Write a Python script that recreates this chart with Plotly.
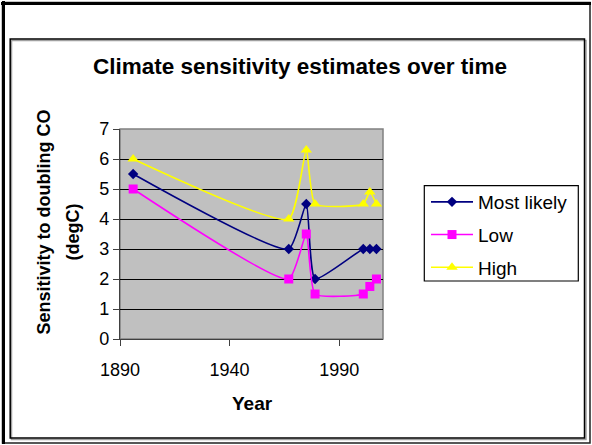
import plotly.graph_objects as go

years = [1896, 1967, 1975, 1979, 2001, 2004, 2007]
most_likely = [5.5, 3.0, 4.5, 2.0, 3.0, 3.0, 3.0]
low = [5.0, 2.0, 3.5, 1.5, 1.5, 1.75, 2.0]
high = [6.0, 4.0, 6.3, 4.5, 4.5, 4.9, 4.5]

series_names = ["Most likely", "Low", "High"]
x_ticks = [1890, 1940, 1990]
y_ticks = [0, 1, 2, 3, 4, 5, 6, 7]

W, H = 592, 445
L, R, T, B = 120, 209, 129, 106
PW, PH = W - L - R, H - T - B

def px(x):
    return (x - L) / PW

def py(y):
    return (H - B - y) / PH

FONT = "Liberation Sans, Arial, sans-serif"

fig = go.Figure()
styles = [
    dict(color="#000080", symbol="diamond", size=8),
    dict(color="#FF00FF", symbol="square", size=9),
    dict(color="#FFFF00", symbol="triangle-up", size=10),
]
for i, (name, vals, st) in enumerate(zip(series_names, [most_likely, low, high], styles)):
    fig.add_trace(go.Scatter(
        x=years, y=vals, name=name, mode="lines+markers",
        line=dict(color=st["color"], width=1.6, shape="spline", smoothing=0.5),
        marker=dict(color=st["color"], symbol=st["symbol"], size=st["size"],
                    line=dict(width=0)),
        legendgroup=f"g{i}",
    ))

shapes = []
# outer frame
shapes.append(dict(type="rect", xref="paper", yref="paper",
                   x0=px(2.5), x1=px(590), y0=py(443), y1=py(2.5),
                   line=dict(color="#202020", width=1.5)))
shapes.append(dict(type="line", xref="paper", yref="paper",
                   x0=px(1), x1=px(591), y0=py(3.5), y1=py(3.5),
                   line=dict(color="black", width=3)))
shapes.append(dict(type="line", xref="paper", yref="paper",
                   x0=px(3.5), x1=px(3.5), y0=py(1), y1=py(444),
                   line=dict(color="black", width=3)))
# inner frame shadow + frame
shapes.append(dict(type="rect", xref="paper", yref="paper",
                   x0=px(11.5), x1=px(586), y0=py(439.5), y1=py(40.5),
                   line=dict(color="#a0a0a0", width=1.5)))
shapes.append(dict(type="rect", xref="paper", yref="paper",
                   x0=px(10.2), x1=px(584.5), y0=py(438), y1=py(39),
                   line=dict(color="black", width=1.5), fillcolor="rgba(0,0,0,0)"))
# plot area border
shapes.append(dict(type="rect", xref="paper", yref="paper",
                   x0=0, x1=1, y0=0, y1=1,
                   line=dict(color="#808080", width=1.5), layer="below"))
# legend box
shapes.append(dict(type="rect", xref="paper", yref="paper",
                   x0=px(424.3), x1=px(578.3), y0=py(281), y1=py(185.7),
                   line=dict(color="black", width=1.2), fillcolor="white", layer="below"))

annotations = [
    dict(text="<b>Climate sensitivity estimates over time</b>", xref="paper", yref="paper",
         x=px(299.7), y=py(66), xanchor="center", yanchor="middle", showarrow=False,
         font=dict(family=FONT, size=22.5, color="black")),
    dict(text="<b>Sensitivity to doubling CO</b>", xref="paper", yref="paper",
         x=px(43), y=py(222.5), xanchor="center", yanchor="middle", textangle=-90,
         showarrow=False, font=dict(family=FONT, size=18, color="black")),
    dict(text="<b>(degC)</b>", xref="paper", yref="paper",
         x=px(72), y=py(232.5), xanchor="center", yanchor="middle", textangle=-90,
         showarrow=False, font=dict(family=FONT, size=18, color="black")),
    dict(text="<b>Year</b>", xref="paper", yref="paper",
         x=px(252.5), y=py(403.5), xanchor="center", yanchor="middle",
         showarrow=False, font=dict(family=FONT, size=19, color="black")),
]

fig.update_layout(
    width=W, height=H,
    margin=dict(l=L, r=R, t=T, b=B, pad=0),
    paper_bgcolor="white",
    plot_bgcolor="#C0C0C0",
    font=dict(family=FONT, size=18, color="black"),
    showlegend=True,
    legend=dict(
        x=px(426), y=py(183), xanchor="left", yanchor="top",
        bgcolor="rgba(0,0,0,0)", borderwidth=0,
        font=dict(family=FONT, size=19, color="black"),
        itemwidth=42, tracegroupgap=5, traceorder="grouped",
    ),
    xaxis=dict(
        range=[1890, 2010], tickvals=x_ticks, ticktext=[str(v) for v in x_ticks],
        showgrid=False, zeroline=False, showline=True, linecolor="#404040", linewidth=1.2,
        ticks="outside", ticklen=6, tickcolor="#404040", ticklabelstandoff=8,
        tickfont=dict(family=FONT, size=18, color="black"),
    ),
    yaxis=dict(
        range=[0, 7], tickvals=y_ticks,
        showgrid=True, gridcolor="black", gridwidth=1.2, zeroline=False,
        showline=True, linecolor="#404040", linewidth=1.2,
        ticks="outside", ticklen=6, tickcolor="#404040",
        tickfont=dict(family=FONT, size=18, color="black"),
    ),
    shapes=shapes,
    annotations=annotations,
)

fig.write_html("out.html")
